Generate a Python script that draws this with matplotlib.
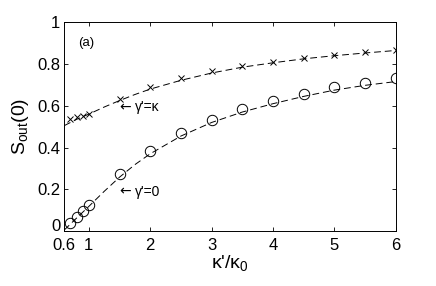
import numpy as np
import matplotlib
matplotlib.use('Agg')
import matplotlib.pyplot as plt
import matplotlib.transforms as mtransforms

plt.rcParams['font.family'] = ['Liberation Sans', 'DejaVu Sans']
plt.rcParams['mathtext.fontset'] = 'custom'
plt.rcParams['mathtext.rm'] = 'Liberation Sans'
plt.rcParams['mathtext.it'] = 'Liberation Sans'

# markers: gamma' = kappa (crosses) and gamma' = 0 (circles)
k_pts = [0.7, 0.8, 0.9, 1.0, 1.5, 2.0, 2.5, 3.0, 3.5, 4.0, 4.5, 5.0, 5.5, 6.0]
s_cross = [0.535, 0.545, 0.551, 0.560, 0.633, 0.690, 0.732, 0.765, 0.792,
           0.811, 0.829, 0.845, 0.856, 0.869]
s_circ = [0.037, 0.066, 0.094, 0.124, 0.272, 0.382, 0.468, 0.530, 0.583,
          0.625, 0.658, 0.688, 0.711, 0.733]

# dashed theory curves
k_line = [0.6, 0.8, 1.0, 1.25, 1.5, 1.75, 2.0, 2.5, 3.0, 3.5, 4.0, 4.5, 5.0, 5.5, 6.0]
s_line_cross = [0.505, 0.535, 0.560, 0.594, 0.625, 0.654, 0.680, 0.722, 0.757,
                0.785, 0.806, 0.825, 0.840, 0.853, 0.865]
s_line_circ = [0.005, 0.062, 0.118, 0.190, 0.258, 0.318, 0.370, 0.455, 0.520,
               0.570, 0.610, 0.645, 0.675, 0.698, 0.716]

xticks = [0.6, 1, 2, 3, 4, 5, 6]
xticklabels = ['0.6', '1', '2', '3', '4', '5', '6']
yticks = [0, 0.2, 0.4, 0.6, 0.8, 1]
yticklabels = ['0', '0.2', '0.4', '0.6', '0.8', '1']

fig = plt.figure(figsize=(4.36, 2.86), dpi=100)
ax = fig.add_axes([0.1475, 0.1923, 0.7601, 0.7297])

dash = (0, (7, 4))
ax.plot(k_line, s_line_cross, color='black', lw=0.7, linestyle=dash)
ax.plot(k_line, s_line_circ, color='black', lw=0.7, linestyle=dash)
ax.plot(k_pts, s_cross, linestyle='none', marker='x', color='black',
        markersize=5, markeredgewidth=0.7)
ax.plot(k_pts, s_circ, linestyle='none', marker='o', markerfacecolor='none',
        markeredgecolor='black', markersize=7.5, markeredgewidth=0.7)

ax.text(0.82, 0.9, '(a)', fontsize=9.5, va='center', ha='left')
for y0, lab in [(0.593, "\u03b3'=\u03ba"), (0.188, "\u03b3'=0")]:
    ax.text(1.5, y0, "\u2190", fontsize=10, va='center', ha='left',
            family=['DejaVu Sans'])
    ax.text(1.75, y0, lab, fontsize=10, va='center', ha='left')

ax.set_xlim(0.6, 6)
ax.set_ylim(0, 1)
ax.set_xticks(xticks)
ax.set_xticklabels(xticklabels)
ax.set_yticks(yticks)
ax.set_yticklabels(yticklabels)
ax.tick_params(direction='in', top=True, right=True, labelsize=12, length=3,
               width=0.6)
ax.tick_params(axis='x', pad=5)
ax.tick_params(axis='y', pad=3)
for sp in ax.spines.values():
    sp.set_linewidth(0.7)

# lift the "0" y label a bit so it clears "0.6", as in the original
lbl0 = ax.get_yticklabels()[0]
lbl0.set_transform(lbl0.get_transform() +
                   mtransforms.ScaledTranslation(0, 4 / 72, fig.dpi_scale_trans))

ax.set_xlabel("\u03ba'/\u03ba$_0$", fontsize=14, labelpad=0)
ax.set_ylabel("S$_{\\mathrm{out}}$(0)", fontsize=14, labelpad=4)

fig.savefig('out.png', dpi=100)
